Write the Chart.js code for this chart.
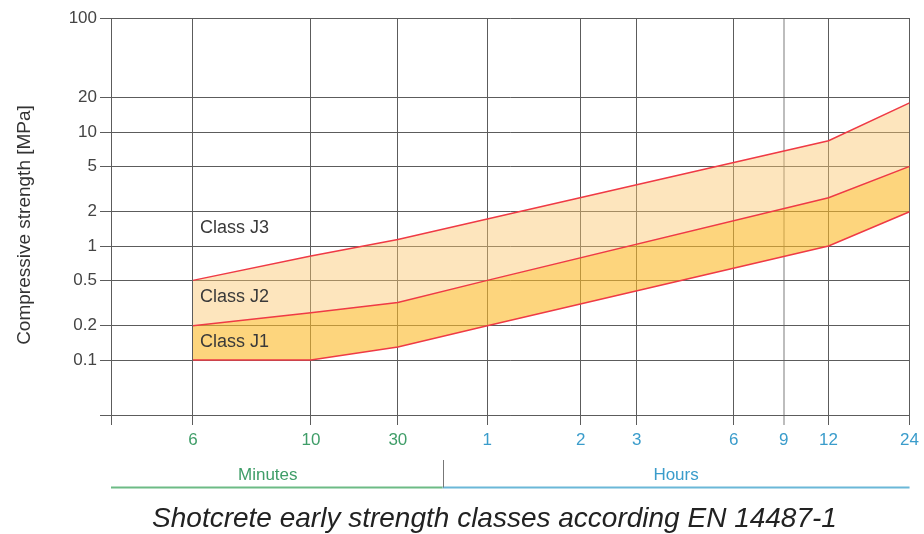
<!DOCTYPE html>
<html><head><meta charset="utf-8">
<script src="https://cdn.jsdelivr.net/npm/chart.js@4/dist/chart.umd.min.js"></script>
<style>html,body{margin:0;padding:0;background:#fff;}#wrap{width:924px;height:534px;}</style>
</head><body><div id="wrap"><canvas id="c" width="924" height="534"></canvas></div>
<script>
// ---- data ----
const timeMinutes = [6, 10, 30, 60, 720, 1440];
const classJ1Lower = [0.1, 0.1, 0.13, 0.2, 1, 2];
const classJ2Lower = [0.2, 0.26, 0.32, 0.5, 2.65, 5];
const classJ3Lower = [0.5, 0.82, 1.14, 1.73, 8.4, 18];
const xTickMinutes = [6, 10, 30, 60, 120, 180, 360, 540, 720, 1440];
const xTickLabels = ['6', '10', '30', '1', '2', '3', '6', '9', '12', '24'];
const yTickValues = [0.1, 0.2, 0.5, 1, 2, 5, 10, 20, 100];
const yTickLabels = ['0.1', '0.2', '0.5', '1', '2', '5', '10', '20', '100'];
const classNames = ['Class J1', 'Class J2', 'Class J3'];
const classLabelY = [0.144, 0.355, 1.43];
const unitNames = ['Minutes', 'Hours'];
const yTitle = 'Compressive strength [MPa]';
const chartTitle = 'Shotcrete early strength classes according EN 14487-1';

// ---- layout / style ----
const X_MIN = 3, X_MAX = 1440, Y_MIN = 0.033, Y_MAX = 100;
// non-uniform time axis of the original: axis fraction at each tick
const axisKnots = [[X_MIN, 0], [6, 0.1026], [10, 0.2503], [30, 0.3592], [60, 0.4712], [120, 0.5882],
  [180, 0.6583], [360, 0.7797], [540, 0.8423], [720, 0.8986], [1440, 1]];
const FONT = '"Liberation Sans", Arial, sans-serif';
const GRID = '#5c5c5c';
const RED = '#ef3a45';
const GREEN = '#3f9d68', BLUE = '#3a9ccb';
const GREEN_LINE = '#6dbb85', BLUE_LINE = '#6bb8d8';

class SlotLogScale extends Chart.LogarithmicScale {
  static id = 'slotlog';
  static defaults = {};
  _dec(v) {
    const l = Math.log10(v), k = axisKnots;
    if (l <= Math.log10(k[0][0])) return k[0][1];
    for (let i = 1; i < k.length; i++) {
      const a = Math.log10(k[i - 1][0]), b = Math.log10(k[i][0]);
      if (l <= b) return k[i - 1][1] + (l - a) / (b - a) * (k[i][1] - k[i - 1][1]);
    }
    return 1;
  }
  getPixelForValue(v) {
    if (v === null || v === undefined || isNaN(v)) return NaN;
    return this.getPixelForDecimal(this._dec(v));
  }
  getValueForPixel(p) {
    const d = this.getDecimalForPixel(p), k = axisKnots;
    for (let i = 1; i < k.length; i++) {
      if (d <= k[i][1]) {
        const a = Math.log10(k[i - 1][0]), b = Math.log10(k[i][0]);
        const f = (d - k[i - 1][1]) / (k[i][1] - k[i - 1][1]);
        return Math.pow(10, a + f * (b - a));
      }
    }
    return X_MAX;
  }
}
Chart.register(SlotLogScale);

const pts = arr => timeMinutes.map((t, i) => ({ x: t, y: arr[i] }));

const extras = {
  id: 'extras',
  afterDraw(chart) {
    const { ctx, chartArea: a, scales: { x, y } } = chart;
    ctx.save();
    // y-axis title
    ctx.save();
    ctx.translate(25, 225);
    ctx.rotate(-Math.PI / 2);
    ctx.font = '19px ' + FONT;
    ctx.fillStyle = '#333';
    ctx.textAlign = 'center';
    ctx.textBaseline = 'middle';
    ctx.fillText(yTitle, 0, 0);
    ctx.restore();
    // class labels
    ctx.font = '18px ' + FONT;
    ctx.fillStyle = '#3a3a3a';
    ctx.textAlign = 'left';
    ctx.textBaseline = 'middle';
    const lx = x.getPixelForValue(timeMinutes[0]) + 7;
    classNames.forEach((n, i) => ctx.fillText(n, lx, y.getPixelForValue(classLabelY[i])));
    // minutes / hours band
    const sepX = (x.getPixelForValue(30) + x.getPixelForValue(60)) / 2;
    const by = 487.5;
    ctx.lineWidth = 2;
    ctx.strokeStyle = GREEN_LINE;
    ctx.beginPath(); ctx.moveTo(a.left, by); ctx.lineTo(sepX, by); ctx.stroke();
    ctx.strokeStyle = BLUE_LINE;
    ctx.beginPath(); ctx.moveTo(sepX, by); ctx.lineTo(a.right, by); ctx.stroke();
    ctx.lineWidth = 1;
    ctx.strokeStyle = '#777';
    ctx.beginPath(); ctx.moveTo(Math.round(sepX) + 0.5, 460); ctx.lineTo(Math.round(sepX) + 0.5, by); ctx.stroke();
    ctx.font = '17px ' + FONT;
    ctx.textAlign = 'center';
    ctx.fillStyle = GREEN;
    ctx.fillText(unitNames[0], (a.left + sepX) / 2 - 9, 475);
    ctx.fillStyle = BLUE;
    ctx.fillText(unitNames[1], (sepX + a.right) / 2, 475);
    // bottom title
    ctx.font = 'italic 28px ' + FONT;
    ctx.fillStyle = '#222';
    ctx.textBaseline = 'alphabetic';
    ctx.fillText(chartTitle, 494.5, 527);
    ctx.restore();
  }
};

new Chart(document.getElementById('c'), {
  type: 'line',
  data: {
    datasets: [
      { label: 'J1', data: pts(classJ1Lower), borderColor: RED, borderWidth: 1.5, pointRadius: 0, fill: false, tension: 0 },
      { label: 'J2', data: pts(classJ2Lower), borderColor: RED, borderWidth: 1.5, pointRadius: 0, fill: '-1', backgroundColor: 'rgba(252,185,38,0.6)', tension: 0 },
      { label: 'J3', data: pts(classJ3Lower), borderColor: RED, borderWidth: 1.5, pointRadius: 0, fill: '-1', backgroundColor: 'rgba(251,197,108,0.45)', tension: 0 }
    ]
  },
  options: {
    responsive: false,
    animation: false,
    events: [],
    layout: { padding: { left: 0, top: 18, right: 14, bottom: 0 } },
    plugins: { legend: { display: false }, tooltip: { enabled: false } },
    scales: {
      x: {
        type: 'slotlog', min: X_MIN, max: X_MAX,
        afterBuildTicks: s => { s.ticks = [X_MIN, ...xTickMinutes].map(v => ({ value: v })); },
        afterFit: s => { s.height = 119; },
        ticks: {
          autoSkip: false, maxRotation: 0, minRotation: 0, padding: 5,
          font: { family: FONT, size: 17 },
          color: c => (c.tick && c.tick.value < 60 ? GREEN : BLUE),
          callback: (v, i) => (i === 0 ? '' : xTickLabels[i - 1])
        },
        grid: {
          color: c => (c.tick && c.tick.value === 540 ? '#bdbdbd' : GRID),
          lineWidth: c => (c.tick && c.tick.value === 540 ? 2 : 1),
          tickLength: 10, drawTicks: true
        },
        border: { display: true, color: GRID }
      },
      y: {
        type: 'logarithmic', min: Y_MIN, max: Y_MAX,
        afterBuildTicks: s => { s.ticks = [Y_MIN, ...yTickValues].map(v => ({ value: v })); },
        afterFit: s => { s.width = 111; },
        ticks: {
          autoSkip: false, padding: 3,
          font: { family: FONT, size: 17 },
          color: '#444',
          callback: (v, i) => (i === 0 ? '' : yTickLabels[i - 1])
        },
        grid: { color: GRID, tickLength: 11, drawTicks: true },
        border: { display: true, color: GRID }
      }
    }
  },
  plugins: [extras]
});
</script></body></html>
